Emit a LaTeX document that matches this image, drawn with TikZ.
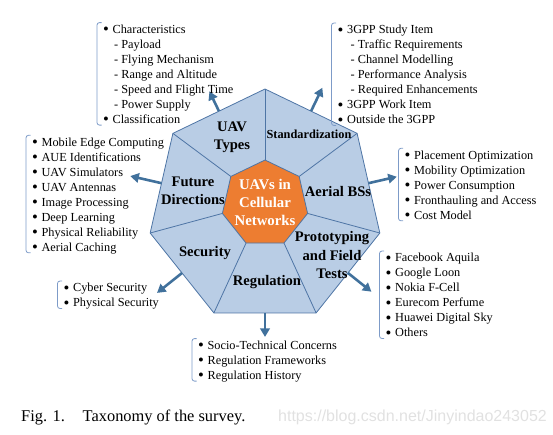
\documentclass[tikz,border=0pt]{standalone}
\usepackage{fontspec}
\setmainfont{Liberation Serif}
\newfontfamily\markfont{Liberation Sans}
\usepackage{tikz}
\usetikzlibrary{arrows.meta}
\usetikzlibrary{calc}

\definecolor{sectorblue}{RGB}{185,205,229}
\definecolor{edgeblue}{RGB}{78,117,165}
\definecolor{arrowblue}{RGB}{65,113,156}
\definecolor{huborange}{RGB}{237,125,49}
\definecolor{bracketblue}{RGB}{125,155,200}
\definecolor{markgray}{RGB}{225,225,225}
\newcommand{\listbul}{\raisebox{-1.3pt}{\scalebox{1.35}{\textbullet}}\hspace{3.6pt}}

\begin{document}
\begin{tikzpicture}[x=1pt,y=-1pt,
  sector/.style={font=\fontsize{14.6}{18}\selectfont\bfseries, align=center, inner sep=0pt},
  topic/.style={-{Triangle[width=9.5pt,length=8.5pt]}, line width=2.6pt, draw=arrowblue},
  itemlist/.style={anchor=north west, align=left, inner sep=0pt, font=\fontsize{12.3}{15}\selectfont},
  bracket/.style={draw=bracketblue, line width=0.8pt, rounded corners=2.5pt}]
\useasboundingbox (0,0) rectangle (553,434);
\path (265,206.8) coordinate (outer_c) (265,203.7) coordinate (inner_c);
\foreach \i in {0,...,6}
  \path (outer_c) ++(90+\i*360/7:117.8pt) coordinate (o\i)
        (inner_c) ++(90+\i*360/7:43.7pt) coordinate (n\i);
\draw[fill=sectorblue, draw=edgeblue, line width=0.8pt] (o0) -- (o1) -- (o2) -- (o3) -- (o4) -- (o5) -- (o6) -- cycle;
\foreach \i in {0,...,6}
  \draw[edgeblue, line width=0.8pt] (n\i) -- (o\i);
\draw[fill=huborange, draw=edgeblue, line width=0.8pt] (n0) -- (n1) -- (n2) -- (n3) -- (n4) -- (n5) -- (n6) -- cycle;
\node[sector, text=white, font=\fontsize{14.8}{18}\selectfont\bfseries] (hub) at (265,202) {UAVs in\\Cellular\\Networks};
\node[sector] (types_lbl) at (232,137) {UAV\\Types};
\node[sector, font=\fontsize{12.3}{15}\selectfont\bfseries] (std_lbl) at (309,134) {Standardization};
\node[sector] (aerial_lbl) at (338,192) {Aerial BSs};
\node[sector] (proto_lbl) at (332,255) {Prototyping\\and Field\\Tests};
\node[sector] (reg_lbl) at (267,282) {Regulation};
\node[sector] (sec_lbl) at (205,253) {Security};
\node[sector] (future_lbl) at (193,191) {Future\\Directions};
\path ($(o0)!0.5!(o1)$) coordinate (types_tail) ++(115.7:22pt) coordinate (types_tip);
\path ($(o6)!0.5!(o0)$) coordinate (std_tail) ++(64.3:26pt) coordinate (std_tip);
\path ($(o5)!0.5!(o6)$) coordinate (aerial_tail) ++(12.9:29pt) coordinate (aerial_tip);
\path ($(o4)!0.5!(o5)$) coordinate (proto_tail) ++(321.4:30pt) coordinate (proto_tip);
\path ($(o3)!0.5!(o4)$) coordinate (reg_tail) ++(270:24pt) coordinate (reg_tip);
\path ($(o2)!0.5!(o3)$) coordinate (sec_tail) ++(218.6:32pt) coordinate (sec_tip);
\path ($(o1)!0.5!(o2)$) coordinate (future_tail) ++(167.1:32pt) coordinate (future_tip);
\foreach \a in {types,std,aerial,proto,reg,sec,future}
  \draw[topic] (\a_tail) -- (\a_tip);
\node[itemlist] (types_list) at (103,24.6) {\listbul Characteristics\\\hspace{11pt}- Payload\\\hspace{11pt}- Flying Mechanism\\\hspace{11pt}- Range and Altitude\\\hspace{11pt}- Speed and Flight Time\\\hspace{11pt}- Power Supply\\\listbul Classification};
\node[itemlist] (std_list) at (337.5,25) {\listbul 3GPP Study Item\\\hspace{13pt}- Traffic Requirements\\\hspace{13pt}- Channel Modelling\\\hspace{13pt}- Performance Analysis\\\hspace{13pt}- Required Enhancements\\\listbul 3GPP Work Item\\\listbul Outside the 3GPP};
\node[itemlist] (aerial_list) at (404.5,150.3) {\listbul Placement Optimization\\\listbul Mobility Optimization\\\listbul Power Consumption\\\listbul Fronthauling and Access\\\listbul Cost Model};
\node[itemlist] (proto_list) at (385.5,253) {\listbul Facebook Aquila\\\listbul Google Loon\\\listbul Nokia F-Cell\\\listbul Eurecom Perfume\\\listbul Huawei Digital Sky\\\listbul Others};
\node[itemlist] (reg_list) at (198,340.6) {\listbul Socio-Technical Concerns\\\listbul Regulation Frameworks\\\listbul Regulation History};
\node[itemlist] (sec_list) at (63.5,283) {\listbul Cyber Security\\\listbul Physical Security};
\node[itemlist] (future_list) at (32,137.3) {\listbul Mobile Edge Computing\\\listbul AUE Identifications\\\listbul UAV Simulators\\\listbul UAV Antennas\\\listbul Image Processing\\\listbul Deep Learning\\\listbul Physical Reliability\\\listbul Aerial Caching};
\foreach \a/\n in {types/7,std/7,aerial/5,proto/6,reg/3,sec/2,future/8}
  \draw[bracket] ($(\a_list.north west)+(-1.5,-2)$) -- ++(-4.5,0) -- ++(0,{(\n-1)*15+12.5}) -- ++(4.5,0);
\node[anchor=base west, inner sep=0pt, font=\fontsize{16.4}{18}\selectfont] (fig_num) at (21,421) {Fig. 1.};
\node[anchor=base west, inner sep=0pt, font=\fontsize{16.4}{18}\selectfont] (fig_caption) at (82.5,421) {Taxonomy of the survey.};
\node[anchor=base west, inner sep=0pt, text=markgray, font=\markfont\fontsize{16}{18}\selectfont] (fig_mark) at (278,421) {https://blog.csdn.net/Jinyindao243052};
\end{tikzpicture}
\end{document}
